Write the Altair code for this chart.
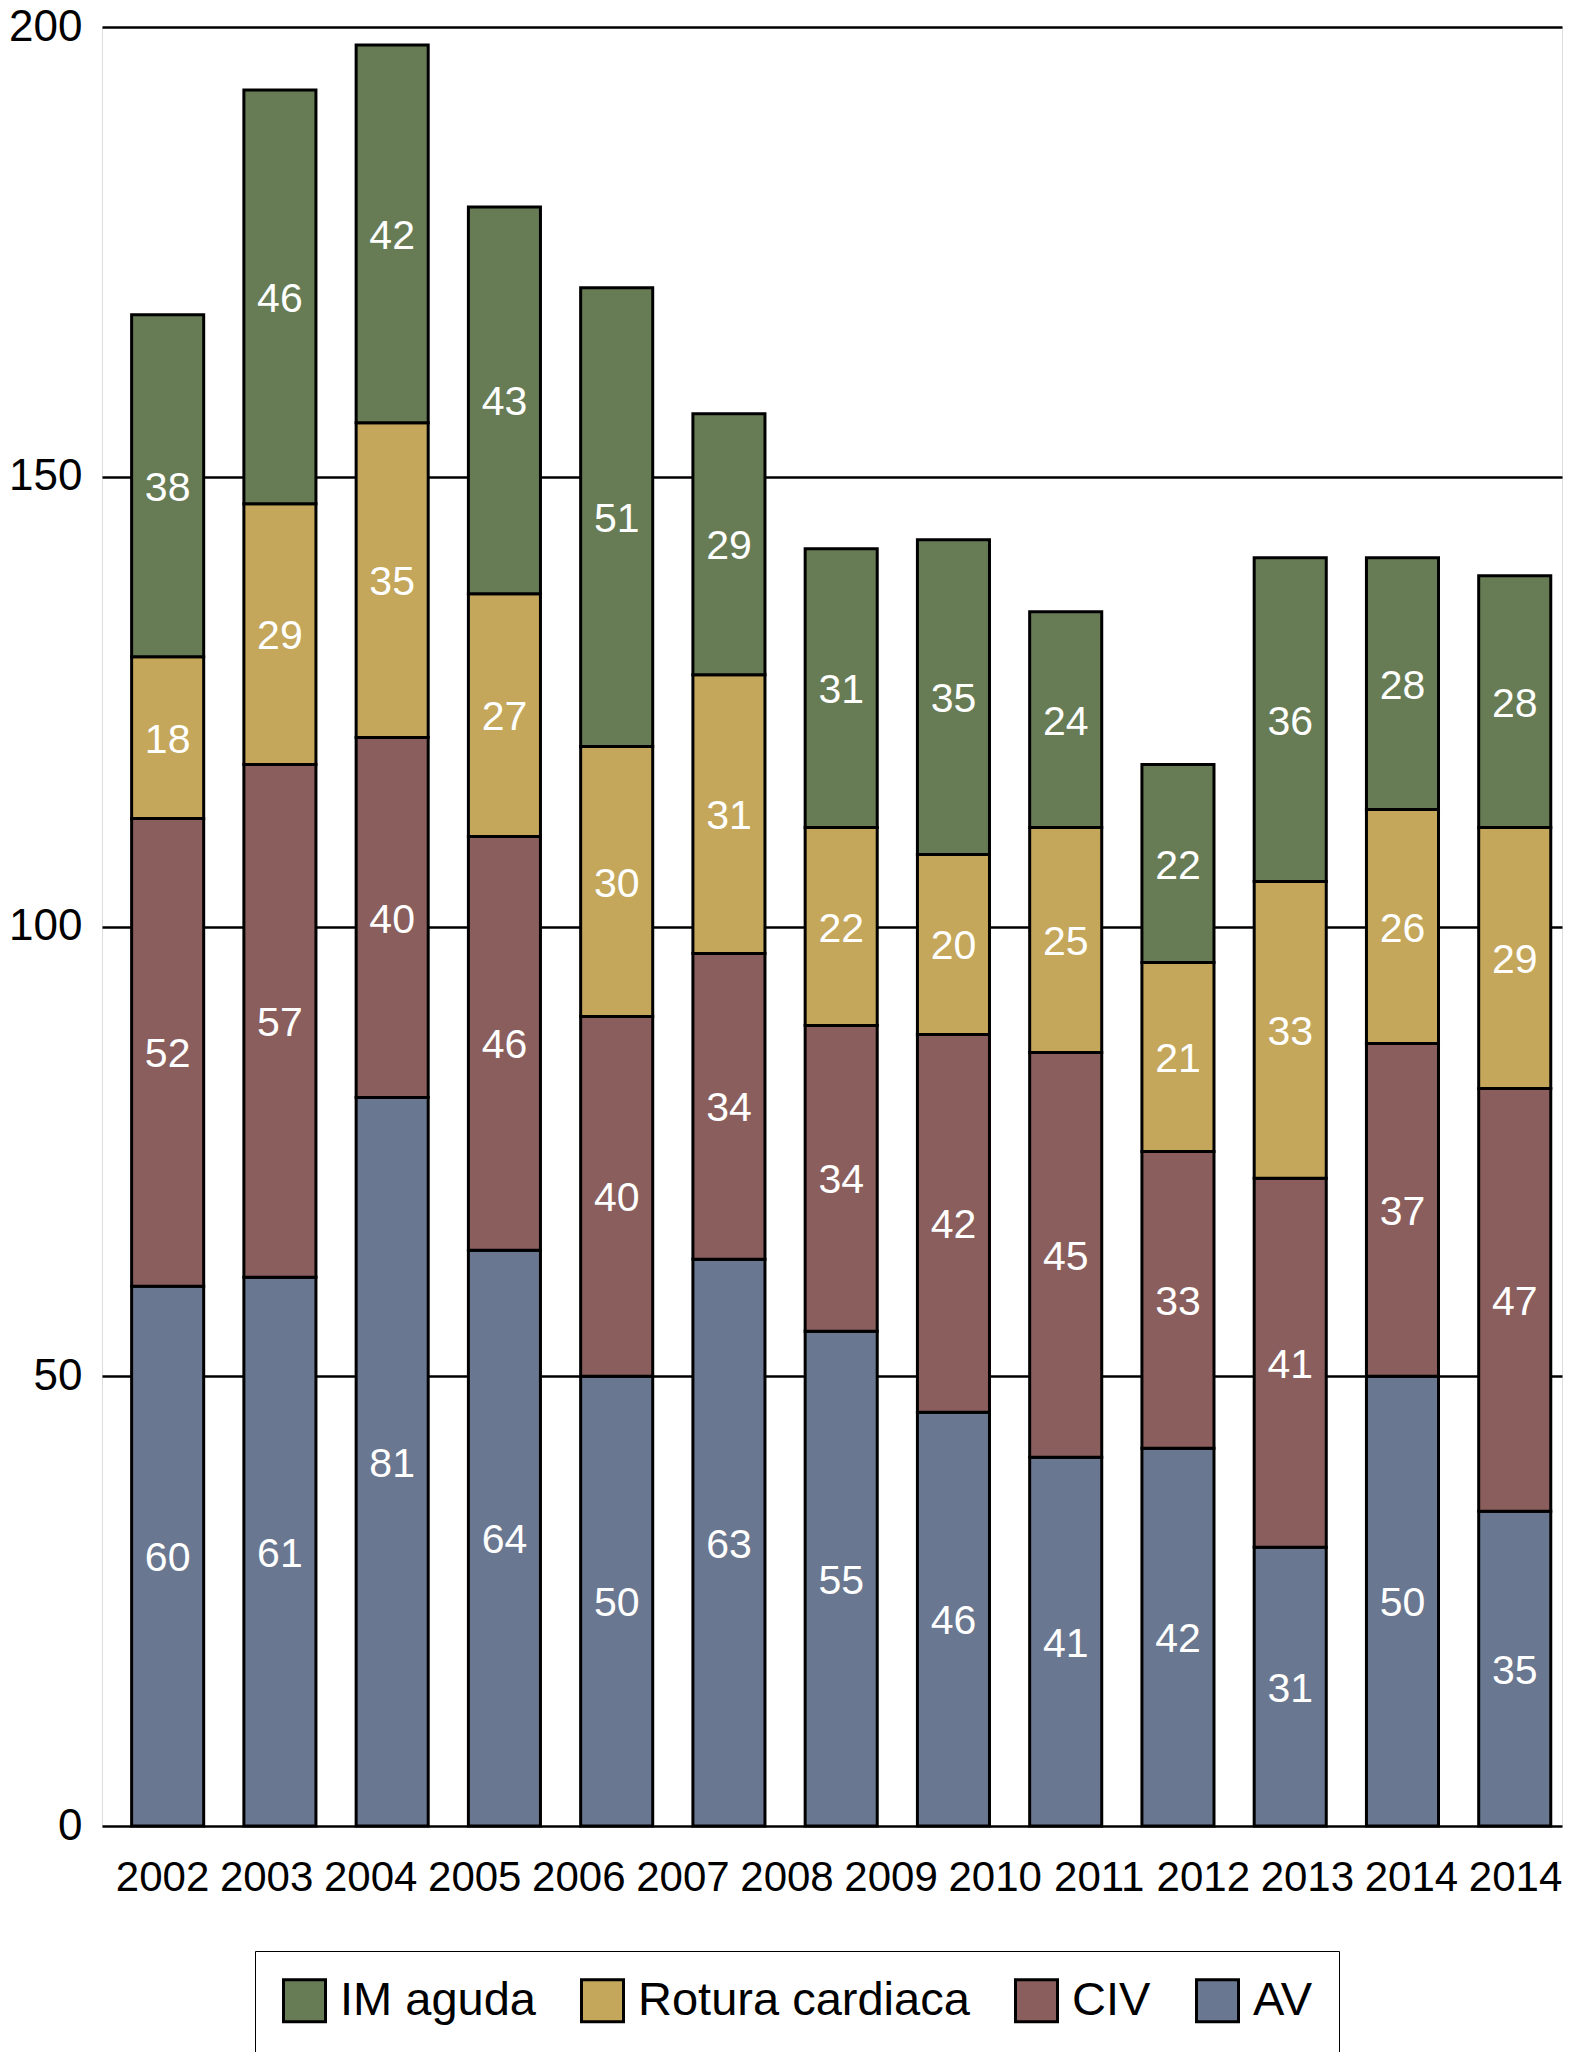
import altair as alt
import pandas as pd

# ---- data ----
bar_index = list(range(13))
av = [60, 61, 81, 64, 50, 63, 55, 46, 41, 42, 31, 50, 35]
civ = [52, 57, 40, 46, 40, 34, 34, 42, 45, 33, 41, 37, 47]
rotura = [18, 29, 35, 27, 30, 31, 22, 20, 25, 21, 33, 26, 29]
im = [38, 46, 42, 43, 51, 29, 31, 35, 24, 22, 36, 28, 28]

# the x-axis row of the source has 14 labels (last year repeated)
axis_labels = ["2002", "2003", "2004", "2005", "2006", "2007", "2008",
               "2009", "2010", "2011", "2012", "2013", "2014", "2014"]

series_legend = ["IM aguda", "Rotura cardiaca", "CIV", "AV"]
colors = ["#677C55", "#C4A75B", "#8A5E5C", "#6A7790"]
y_ticks = [0, 50, 100, 150, 200]

# ---- tables ----
rows = []
stack_parts = [("AV", av), ("CIV", civ), ("Rotura cardiaca", rotura), ("IM aguda", im)]
for i in bar_index:
    for order, (name, vals) in enumerate(stack_parts):
        rows.append({"idx": i, "serie": name, "orden": order, "valor": vals[i]})
df = pd.DataFrame(rows)

lab_df = pd.DataFrame({"pos": list(range(len(axis_labels))), "lab": axis_labels})
label_expr = "[" + ",".join("'%s'" % t for t in axis_labels) + "][datum.value]"

FONT = "Liberation Sans"

base = alt.Chart(df).transform_stack(
    stack="valor", groupby=["idx"], as_=["y0", "y1"],
    sort=[alt.SortField("orden", order="ascending")]
).transform_calculate(mid="(datum.y0 + datum.y1) / 2")

xbar = alt.X("idx:O",
             scale=alt.Scale(paddingInner=0.358, paddingOuter=0.182, align=0.725),
             axis=None)

yscale = alt.Scale(domain=[0, 200], nice=False, zero=True)

bars = base.mark_bar(stroke="black", strokeWidth=3).encode(
    x=xbar,
    y=alt.Y("y0:Q", scale=yscale,
            axis=alt.Axis(values=y_ticks, title=None, grid=True, gridColor="black",
                          gridWidth=2.5, gridOpacity=1, ticks=False, domain=False,
                          labelFontSize=44, labelPadding=20, labelColor="black",
                          labelFont=FONT)),
    y2="y1",
    color=alt.Color("serie:N",
                    scale=alt.Scale(domain=series_legend, range=colors),
                    legend=alt.Legend(title=None, orient="none", legendX=153, legendY=1924,
                                      direction="horizontal", columns=4,
                                      symbolType="square", symbolSize=1764,
                                      symbolStrokeColor="black", symbolStrokeWidth=3,
                                      symbolOpacity=1,
                                      labelFontSize=47, labelFont=FONT, labelColor="black",
                                      labelOffset=12, labelLimit=800, columnPadding=39,
                                      padding=26, strokeColor="black", fillColor="white")),
    order=alt.Order("orden:Q"),
)

texts = base.mark_text(color="white", fontSize=41, font=FONT, baseline="middle", dy=3).encode(
    x=xbar,
    y=alt.Y("mid:Q", scale=yscale),
    text=alt.Text("valor:Q"),
)

bar_layer = alt.layer(bars, texts)

axis_layer = alt.Chart(lab_df).mark_text(opacity=0).encode(
    x=alt.X("pos:O",
            scale=alt.Scale(type="point", padding=0.514, align=0.561),
            axis=alt.Axis(title=None, labelExpr=label_expr, labelAngle=0,
                          labelFontSize=42, labelFont=FONT, labelColor="black",
                          labelPadding=31, ticks=False, domain=False, grid=False,
                          labelOverlap=False)),
    text="lab:N",
)

chart = alt.layer(bar_layer, axis_layer).resolve_scale(x="independent").properties(
    width=1460, height=1799,
    autosize=alt.AutoSizeParams(type="none"),
    padding={"left": 94, "top": 19, "right": 1, "bottom": 226},
).configure_view(stroke=None).configure_legend(strokeWidth=3).configure(font=FONT)

chart.save("out.html", embed_options={"renderer": "svg", "actions": False})
